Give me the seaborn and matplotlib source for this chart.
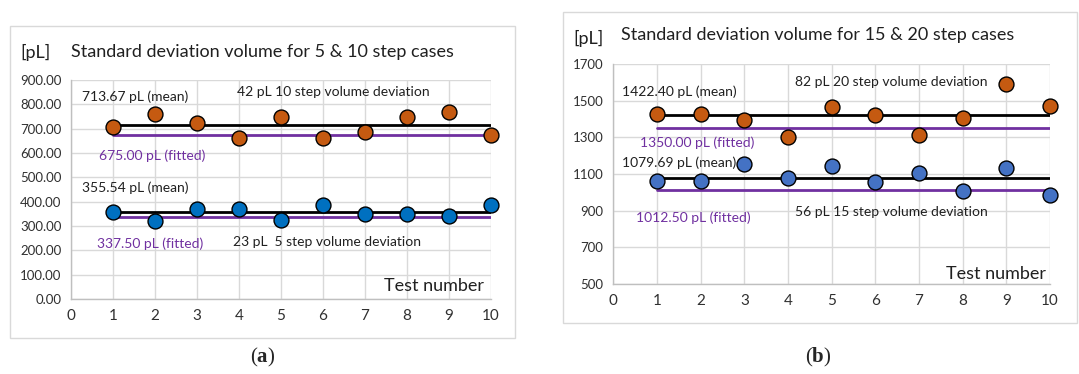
import numpy as np
import pandas as pd
import matplotlib
matplotlib.use("Agg")
import matplotlib.pyplot as plt
import seaborn as sns
from matplotlib.patches import Rectangle

# ---------------- data ----------------
tests = [1, 2, 3, 4, 5, 6, 7, 8, 9, 10]
step10 = [708, 760, 722, 662, 749, 662, 688, 749, 768, 674]
step5 = [356, 320, 368, 368, 325, 386, 351, 351, 342, 386]
step20 = [1429, 1429, 1393, 1304, 1465, 1420, 1311, 1404, 1593, 1473]
step15 = [1064, 1064, 1155, 1076, 1145, 1058, 1104, 1009, 1133, 984]

mean_a = [713.67, 355.54]
fit_a = [675.00, 337.50]
mean_b = [1422.40, 1079.69]
fit_b = [1350.00, 1012.50]

dev_a = ["42 pL 10 step volume deviation", "23 pL  5 step volume deviation"]
dev_b = ["82 pL 20 step volume deviation", "56 pL 15 step volume deviation"]

yticks_a = [0, 100, 200, 300, 400, 500, 600, 700, 800, 900]
yticks_b = [500, 700, 900, 1100, 1300, 1500, 1700]
xticks = list(range(0, 11))

ORANGE = "#C55A11"
BLUE_A = "#0070C0"
BLUE_B = "#4472C4"
PURPLE = "#7030A0"
GRID = "#D9D9D9"

sns.set_theme(style="white")
plt.rcParams['font.family'] = ['Lato', 'DejaVu Sans']
plt.rcParams['mathtext.fontset'] = 'custom'
plt.rcParams['mathtext.bf'] = 'Liberation Serif:bold'
plt.rcParams['mathtext.rm'] = 'Liberation Serif'

fig = plt.figure(figsize=(10.79, 3.74), dpi=100)

# outer chart frames
fig.patches.append(Rectangle((10 / 1079, 1 - 338 / 374), (515 - 10) / 1079, (338 - 26) / 374,
                             transform=fig.transFigure, fill=False, edgecolor="#D9D9D9", lw=1))
fig.patches.append(Rectangle((563 / 1079, 1 - 323 / 374), (1077 - 563) / 1079, (323 - 12) / 374,
                             transform=fig.transFigure, fill=False, edgecolor="#D9D9D9", lw=1))

ax_a = fig.add_axes([71 / 1079, 1 - 299 / 374, 420 / 1079, 219 / 374])
ax_b = fig.add_axes([613.3 / 1079, 1 - 284 / 374, 436.7 / 1079, 220 / 374])


def style_axes(ax, yticks, fmt):
    ax.set_xlim(0, 10)
    ax.set_ylim(yticks[0], yticks[-1])
    ax.set_xticks(xticks)
    ax.set_yticks(yticks)
    ax.set_yticklabels([fmt.format(v) for v in yticks], fontsize=9.5, color="#303030")
    ax.set_xticklabels([str(v) for v in xticks], fontsize=11, color="#303030")
    ax.tick_params(axis="both", length=0, pad=7)
    ax.grid(True, color=GRID, lw=1)
    ax.set_axisbelow(True)
    for s in ["top", "right"]:
        ax.spines[s].set_visible(False)
    for s in ["left", "bottom"]:
        ax.spines[s].set_color("#BFBFBF")
        ax.spines[s].set_linewidth(1)
    ax.set_xlabel("")
    ax.set_ylabel("")


def draw_series(ax, vals, color, mean, fit):
    x0, x1 = min(tests), max(tests)
    ax.plot([x0, x1], [mean, mean], color="black", lw=2, zorder=2)
    ax.plot([x0, x1], [fit, fit], color=PURPLE, lw=2, zorder=2)
    df = pd.DataFrame({"x": tests, "y": vals})
    sns.scatterplot(data=df, x="x", y="y", ax=ax, color=color, s=115,
                    edgecolor="black", linewidth=1, zorder=3, clip_on=False)


# ---------------- panel (a) ----------------
draw_series(ax_a, step10, ORANGE, mean_a[0], fit_a[0])
draw_series(ax_a, step5, BLUE_A, mean_a[1], fit_a[1])
style_axes(ax_a, yticks_a, "{:.2f}")

ax_a.text(0.25, 833, f"{mean_a[0]:.2f} pL (mean)", fontsize=10, va="center", color="#202020")
ax_a.text(3.96, 852, dev_a[0], fontsize=10, va="center", color="#202020")
ax_a.text(0.67, 590, f"{fit_a[0]:.2f} pL (fitted)", fontsize=10, va="center", color=PURPLE)
ax_a.text(0.25, 459, f"{mean_a[1]:.2f} pL (mean)", fontsize=10, va="center", color="#202020")
ax_a.text(0.62, 227, f"{fit_a[1]:.2f} pL (fitted)", fontsize=10, va="center", color=PURPLE)
ax_a.text(3.85, 233, dev_a[1], fontsize=10, va="center", color="#202020")
ax_a.text(9.84, 53, "Test number", fontsize=13, va="center", ha="right", color="#202020")

fig.text(20 / 1079, 1 - 52 / 374, "[pL]", fontsize=13, va="center", color="#202020")
fig.text(71 / 1079, 1 - 52 / 374, "Standard deviation volume for 5 & 10 step cases",
         fontsize=13, va="center", color="#202020")

# ---------------- panel (b) ----------------
draw_series(ax_b, step20, ORANGE, mean_b[0], fit_b[0])
draw_series(ax_b, step15, BLUE_B, mean_b[1], fit_b[1])
style_axes(ax_b, yticks_b, "{:d}")

ax_b.text(0.19, 1551, f"{mean_b[0]:.2f} pL (mean)", fontsize=10, va="center", color="#202020")
ax_b.text(4.16, 1604, dev_b[0], fontsize=10, va="center", color="#202020")
ax_b.text(0.60, 1273, f"{fit_b[0]:.2f} pL (fitted)", fontsize=10, va="center", color=PURPLE)
ax_b.text(0.19, 1160, f"{mean_b[1]:.2f} pL (mean)", fontsize=10, va="center", color="#202020", zorder=1)
ax_b.text(0.53, 864, f"{fit_b[1]:.2f} pL (fitted)", fontsize=10, va="center", color=PURPLE)
ax_b.text(4.16, 895, dev_b[1], fontsize=10, va="center", color="#202020")
ax_b.text(9.9, 556, "Test number", fontsize=13, va="center", ha="right", color="#202020")

fig.text(573 / 1079, 1 - 38 / 374, "[pL]", fontsize=13, va="center", color="#202020")
fig.text(621 / 1079, 1 - 35 / 374, "Standard deviation volume for 15 & 20 step cases",
         fontsize=13, va="center", color="#202020")

# captions
fig.text(263 / 1079, 1 - 357 / 374, r"($\mathbf{a}$)", fontsize=15, ha="center", va="center",
         family="Liberation Serif")
fig.text(818 / 1079, 1 - 357 / 374, r"($\mathbf{b}$)", fontsize=15, ha="center", va="center",
         family="Liberation Serif")

fig.savefig("out.png", dpi=100)
